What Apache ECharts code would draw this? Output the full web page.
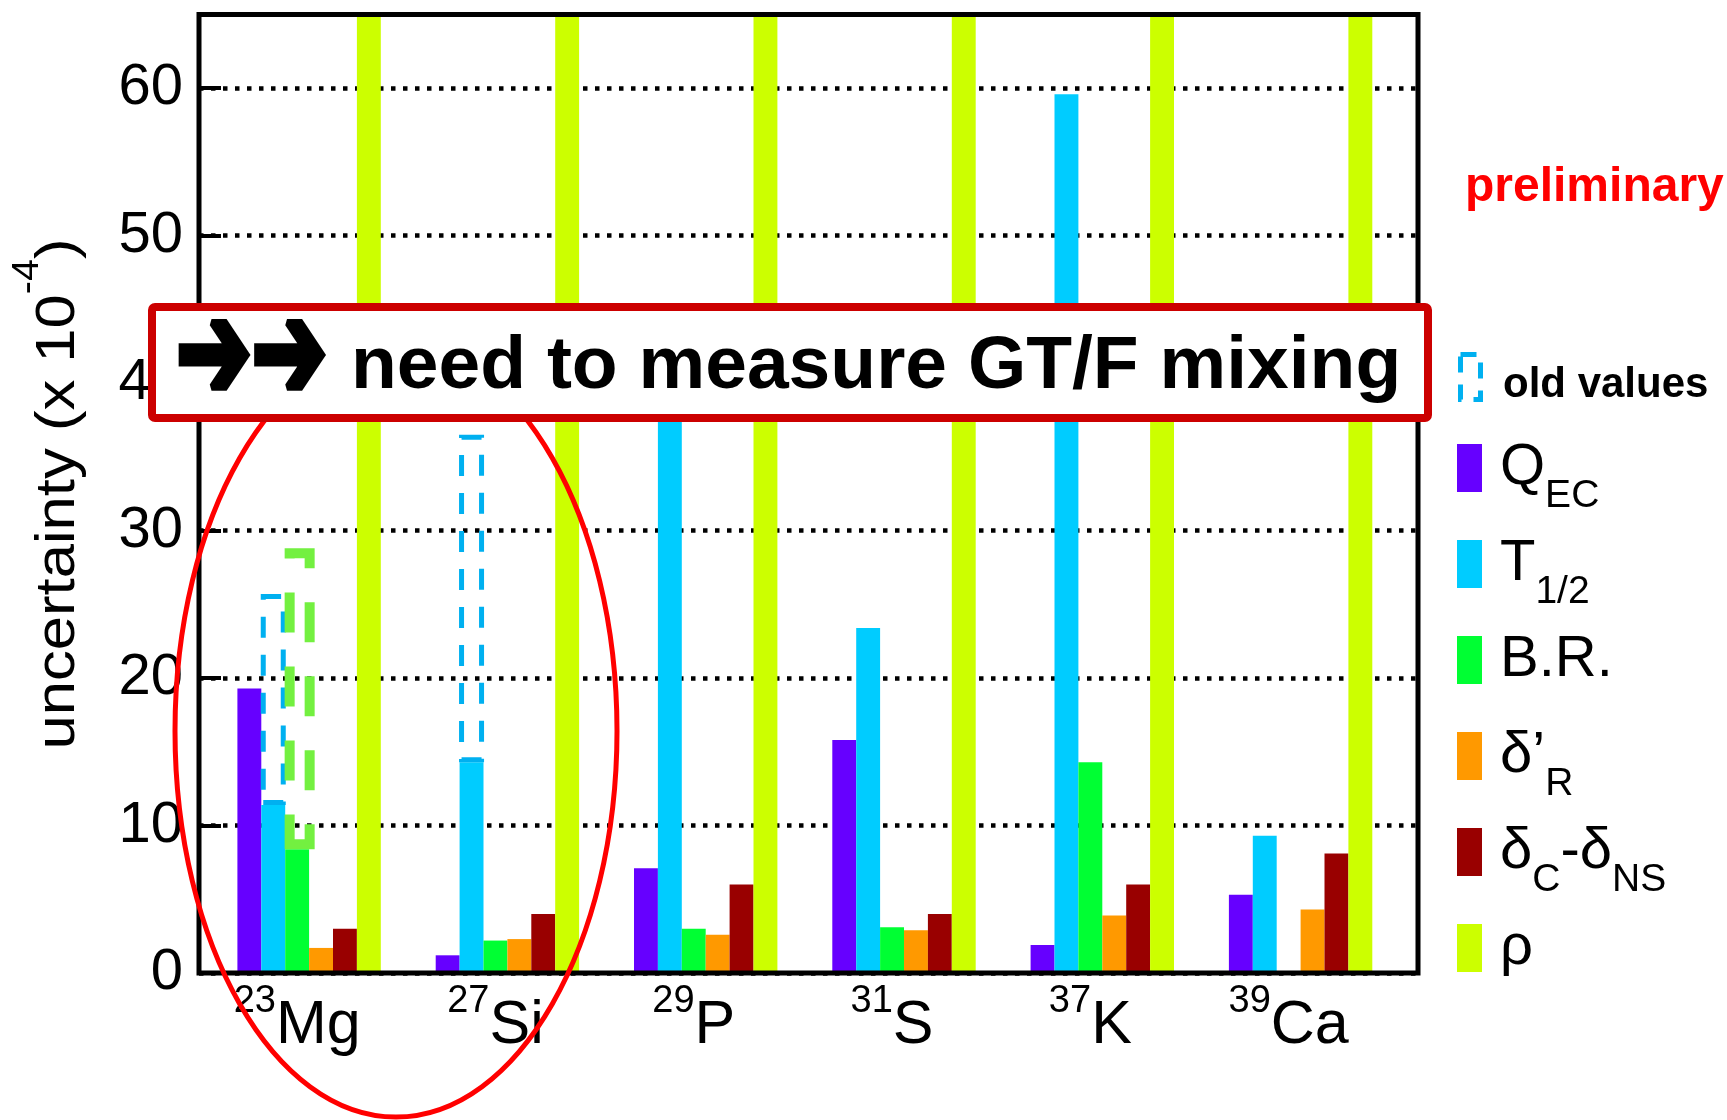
<!DOCTYPE html>
<html>
<head>
<meta charset="utf-8">
<script src="https://cdn.jsdelivr.net/npm/echarts@6/dist/echarts.min.js"></script>
<style>
html,body{margin:0;padding:0;background:#ffffff;}
#chart{width:1727px;height:1120px;}
</style>
</head>
<body>
<div id="chart"></div>
<script>
// ---------------- data ----------------
const massNumbers = [23, 27, 29, 31, 37, 39];
const elements = ['Mg', 'Si', 'P', 'S', 'K', 'Ca'];
const categories = elements.map((e, i) => massNumbers[i] + e);

const qEC       = [19.3, 1.2, 7.1, 15.8, 1.9, 5.3];
const tHalf     = [11.4, 14.3, 41.0, 23.4, 59.6, 9.3];   // 29P value hidden behind the box: estimated
const branching = [8.4, 2.2, 3.0, 3.1, 14.3, 0];
const deltaR    = [1.7, 2.3, 2.6, 2.9, 3.9, 4.3];
const deltaCNS  = [3.0, 4.0, 6.0, 4.0, 6.0, 8.1];
const rho       = [100, 100, 100, 100, 100, 100];       // off scale (above 65)

const oldTHalf     = [25.7, 36.5, null, null, null, null];
const oldBranching = [28.8, null, null, null, null, null];

const yTicks = [0, 10, 20, 30, 40, 50, 60];

const legendNames = ['Q_EC', 'T_1/2', 'B.R.', "δ'_R", 'δC-δNS', 'ρ'];
const legendRich  = ['{m|Q}{s|EC}', '{m|T}{s|1/2}', '{m|B.R.}', '{m|δ’}{s|R}', '{m|δ}{s|C}{m|-δ}{s|NS}', '{m|ρ}'];

// ---------------- layout / style ----------------
const FONT = 'Liberation Sans';
const frame = { left: 199, top: 14.5, width: 1219, height: 958.5 };
const barGrid = { left: 198, top: 14.5, width: 1189.8, height: 958.5 };
const BAR_W = 23.9;
const colors = ['#6600ff', '#00ccff', '#00ff33', '#ff9900', '#990000', '#ccff00'];
const OLD_BLUE = '#00b0f0', OLD_GREEN = '#73f040';

const empty = categories.map(() => '-');
const series = [];

// spacer column so the 6-bar group sits in its band as in the original
series.push({ type: 'bar', name: '_pad0', xAxisIndex: 0, yAxisIndex: 1, data: empty,
  barWidth: BAR_W, barGap: '0%', silent: true });
[qEC, tHalf, branching, deltaR, deltaCNS, rho].forEach((d, k) => {
  series.push({
    type: 'bar', name: legendNames[k], xAxisIndex: 0, yAxisIndex: 1,
    data: d.map(v => (v === 0 ? '-' : v)),
    barWidth: BAR_W, barGap: '0%', silent: true,
    itemStyle: { color: colors[k] }, z: 2
  });
});

// old values: floating dashed boxes (current -> old) on hidden twin category axes
function oldStack(axis, stack, cur, old, color, width, lw, dash) {
  return [
    { type: 'bar', name: stack + '_base', stack: stack, xAxisIndex: axis, yAxisIndex: 1,
      data: old.map((o, i) => (o == null ? '-' : cur[i])),
      barWidth: width, barGap: '0%', silent: true, itemStyle: { color: 'rgba(0,0,0,0)' } },
    { type: 'bar', name: stack, stack: stack, xAxisIndex: axis, yAxisIndex: 1,
      data: old.map((o, i) => (o == null ? '-' : +(o - cur[i]).toFixed(2))),
      barWidth: width, barGap: '0%', silent: true, z: 3,
      itemStyle: { color: 'rgba(0,0,0,0)', borderColor: color, borderWidth: lw, borderType: dash } }
  ];
}
function spacer(axis, width) {
  return { type: 'bar', name: '_sp' + axis + '_' + width, xAxisIndex: axis, yAxisIndex: 1,
    data: empty, barWidth: width, barGap: '0%', silent: true };
}
// T1/2 slot: 25 px box followed by a 47.8 px spacer -> centre at band centre - 23.9
series.push(...oldStack(1, 'oldT', tHalf, oldTHalf, OLD_BLUE, 25, 5, [21, 17]));
series.push(spacer(1, 47.8));
// B.R. slot: 5 px spacer followed by a 30 px box -> centre at band centre + 2.5
series.push(spacer(2, 5));
series.push(...oldStack(2, 'oldBR', branching, oldBranching, OLD_GREEN, 30, 10, [40, 34]));

// ---------------- legend (drawn as graphic) ----------------
const LEG_X = 1457, LEG_Y0 = 468, LEG_DY = 96;
const legendGraphics = [];
legendGraphics.push({ type: 'rect', z: 10, silent: true,
  shape: { x: 1460.5, y: 354.5, width: 20, height: 45 },
  style: { fill: 'none', stroke: OLD_BLUE, lineWidth: 5, lineDash: [16, 12] } });
legendGraphics.push({ type: 'text', z: 10, x: 1503, y: 385, silent: true,
  style: { text: 'old values', fontFamily: FONT, fontWeight: 'bold', fontSize: 42, fill: '#000',
    align: 'left', verticalAlign: 'middle' } });
legendNames.forEach((n, k) => {
  const cy = LEG_Y0 + LEG_DY * k;
  legendGraphics.push({ type: 'rect', z: 10, silent: true,
    shape: { x: LEG_X, y: cy - 24, width: 25, height: 48 },
    style: { fill: colors[k] } });
  legendGraphics.push({ type: 'text', z: 10, x: 1500, y: cy, silent: true,
    style: { text: legendRich[k], align: 'left', verticalAlign: 'middle', fill: '#000',
      rich: {
        m: { fontSize: 58, lineHeight: 96, fontFamily: FONT, fill: '#000' },
        s: { fontSize: 39, lineHeight: 39, height: 39, verticalAlign: 'bottom', fontFamily: FONT, fill: '#000' }
      } } });
});

const option = {
  animation: false,
  backgroundColor: '#ffffff',
  textStyle: { fontFamily: FONT },
  grid: [
    { left: frame.left, top: frame.top, width: frame.width, height: frame.height, show: false },
    { left: barGrid.left, top: barGrid.top, width: barGrid.width, height: barGrid.height, show: false }
  ],
  xAxis: [
    { type: 'category', gridIndex: 1, data: categories,
      axisLine: { show: false }, axisTick: { show: false }, splitLine: { show: false },
      axisLabel: {
        interval: 0, margin: 10, color: '#000',
        formatter: (v, i) => '{sup|' + massNumbers[i] + '}{el|' + elements[i] + '}',
        rich: {
          sup: { fontSize: 38, lineHeight: 38, verticalAlign: 'top', fontFamily: FONT, color: '#000' },
          el: { fontSize: 61, lineHeight: 87, fontFamily: FONT, color: '#000' }
        }
      } },
    { type: 'category', gridIndex: 1, data: categories, show: false },
    { type: 'category', gridIndex: 1, data: categories, show: false },
    { type: 'value', gridIndex: 0, min: 0, max: 1, show: false }
  ],
  yAxis: [
    { type: 'value', gridIndex: 0, min: 0, max: 65, interval: 10,
      axisLine: { show: false },
      axisTick: { show: true, inside: true, length: 22, lineStyle: { color: '#000', width: 4 } },
      axisLabel: { fontSize: 58, color: '#000', margin: 16, fontFamily: FONT, showMaxLabel: false,
        formatter: v => (yTicks.indexOf(v) >= 0 ? String(v) : '') },
      splitLine: { show: true, lineStyle: { color: '#000', width: 4.5, type: [4.5, 7.5] } } },
    { type: 'value', gridIndex: 1, min: 0, max: 65, interval: 10, show: false, splitLine: { show: false } }
  ],
  graphic: [
    // plot frame
    { type: 'rect', z: 50, silent: true,
      shape: { x: frame.left, y: frame.top, width: frame.width, height: frame.height },
      style: { fill: 'none', stroke: '#000', lineWidth: 5 } },
    // y-axis title
    { type: 'text', z: 5, x: 59, y: 494, rotation: Math.PI / 2, scaleX: 1.1, silent: true,
      style: {
        text: '{a|uncertainty (x 10}{b|-4}{a|)}',
        align: 'center', verticalAlign: 'middle', fill: '#000',
        rich: {
          a: { fontSize: 56, lineHeight: 97, fontFamily: FONT, fill: '#000' },
          b: { fontSize: 36, lineHeight: 36, verticalAlign: 'top', fontFamily: FONT, fill: '#000' }
        }
      } },
    // preliminary
    { type: 'text', z: 5, x: 1465, y: 188, silent: true,
      style: { text: 'preliminary', fontFamily: FONT, fontWeight: 'bold', fontSize: 48,
        fill: '#ff0000', align: 'left', verticalAlign: 'middle' } },
    ...legendGraphics,
    // ellipse
    { type: 'ellipse', z: 55, silent: true,
      shape: { cx: 396, cy: 731, rx: 221, ry: 386 },
      style: { fill: 'none', stroke: '#ff0000', lineWidth: 5 } },
    // annotation box
    { type: 'rect', z: 60, silent: true,
      shape: { x: 152, y: 307, width: 1276, height: 111, r: 3 },
      style: { fill: '#ffffff', stroke: '#cc0000', lineWidth: 8 } },
    { type: 'text', z: 61, x: 176, y: 362, scaleY: 1.5, silent: true,
      style: { text: '➔➔', fontFamily: 'DejaVu Sans', fontWeight: 'bold', fontSize: 90,
        fill: '#000', stroke: '#000', lineWidth: 5, align: 'left', verticalAlign: 'middle' } },
    { type: 'text', z: 61, x: 351, y: 367, silent: true,
      style: { text: 'need to measure GT/F mixing', fontFamily: FONT, fontWeight: 'bold', fontSize: 75,
        fill: '#000', align: 'left', verticalAlign: 'middle' } }
  ],
  series: series
};

const chart = echarts.init(document.getElementById('chart'), null, { renderer: 'canvas' });
chart.setOption(option);
</script>
</body>
</html>
